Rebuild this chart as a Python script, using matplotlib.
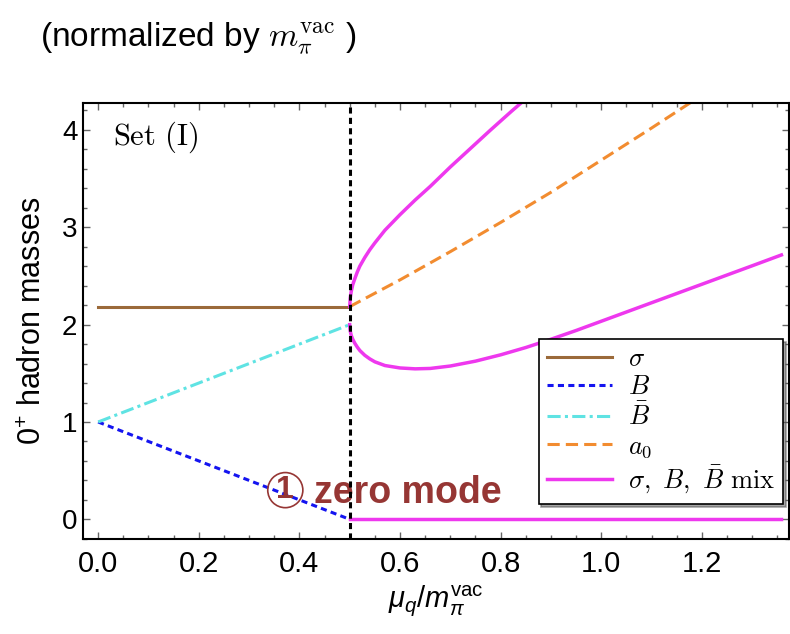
import numpy as np
import matplotlib
matplotlib.use("Agg")
import matplotlib.pyplot as plt
from matplotlib.ticker import MultipleLocator, FormatStrFormatter

# values (x: mu_q / m_pi^vac, y: mass / m_pi^vac)
sigma_x = [0.0, 0.5]
sigma_y = [2.18, 2.18]

b_x = [0.0, 0.5]
b_y = [1.0, 0.0]

bbar_x = [0.0, 0.5]
bbar_y = [1.0, 2.0]

a0_x = [0.5, 0.6, 0.7, 0.8, 0.9, 1.0, 1.1, 1.18, 1.2]
a0_y = [2.185, 2.46, 2.75, 3.05, 3.36, 3.69, 4.02, 4.29, 4.36]

mix_up_x = [0.5, 0.501, 0.503, 0.506, 0.51, 0.515, 0.52, 0.53, 0.54, 0.55, 0.57,
            0.60, 0.63, 0.66, 0.70, 0.74, 0.78, 0.82, 0.84, 0.86]
mix_up_y = [2.185, 2.27, 2.34, 2.41, 2.47, 2.54, 2.60, 2.69, 2.77, 2.84, 2.97,
            3.13, 3.28, 3.42, 3.62, 3.81, 4.00, 4.185, 4.275, 4.365]

mix_lo_x = [0.5, 0.5005, 0.501, 0.503, 0.506, 0.51, 0.515, 0.52, 0.53, 0.54, 0.55, 0.57,
            0.60, 0.63, 0.66, 0.70, 0.75, 0.80, 0.85, 0.90, 0.95, 1.0, 1.1, 1.2, 1.3, 1.358]
mix_lo_y = [2.0, 1.955, 1.935, 1.89, 1.85, 1.81, 1.77, 1.735, 1.685, 1.648, 1.618, 1.58,
            1.555, 1.546, 1.55, 1.575, 1.625, 1.69, 1.765, 1.85, 1.94, 2.035, 2.225, 2.415, 2.605, 2.716]

zero_x = [0.5, 1.358]
zero_y = [0.0, 0.0]

mu_c = 0.5

plt.rcParams['font.family'] = ['Liberation Sans', 'DejaVu Sans']
plt.rcParams['mathtext.fontset'] = 'custom'
plt.rcParams['mathtext.rm'] = 'Liberation Sans'
plt.rcParams['mathtext.it'] = 'Liberation Sans:italic'
plt.rcParams['mathtext.bf'] = 'Liberation Sans:bold'

fig = plt.figure(figsize=(7.9, 6.34), dpi=100)
ax = fig.add_axes([0.1051, 0.1494, 0.8936, 0.6886])

c_sigma = '#9B6A3A'
c_b = '#1414F0'
c_bbar = '#5FE3E3'
c_a0 = '#F28C30'
c_mix = '#EE38EE'
c_note = '#963634'

ax.plot(sigma_x, sigma_y, color=c_sigma, lw=2.2, label=r'$\sigma$')
ax.plot(b_x, b_y, color=c_b, lw=2.2, ls=(0, (2, 1.4)), label=r'$B$')
ax.plot(bbar_x, bbar_y, color=c_bbar, lw=2.2, ls=(0, (4.3, 1.4, 1, 1.4)), label=r'$\bar{B}$')
ax.plot(a0_x, a0_y, color=c_a0, lw=2.2, ls=(0, (4, 2)), label=r'$a_0$')
ax.plot(mix_up_x, mix_up_y, color=c_mix, lw=2.5, label=r'$\sigma,\ B,\ \bar{B}\ \mathrm{mix}$')
ax.plot(mix_lo_x, mix_lo_y, color=c_mix, lw=2.5)
ax.plot(zero_x, zero_y, color=c_mix, lw=2.5)
ax.axvline(mu_c, color='black', lw=2.2, ls=(0, (2, 1.4)), zorder=5)

ax.set_xlim(-0.03, 1.373)
ax.set_ylim(-0.205, 4.28)

ax.xaxis.set_major_locator(MultipleLocator(0.2))
ax.xaxis.set_minor_locator(MultipleLocator(0.05))
ax.xaxis.set_major_formatter(FormatStrFormatter('%.1f'))
ax.yaxis.set_major_locator(MultipleLocator(1))
ax.yaxis.set_minor_locator(MultipleLocator(0.2))
ax.tick_params(which='both', direction='in', top=True, right=True, color='#666666', width=1)
ax.tick_params(which='major', length=5)
ax.tick_params(which='minor', length=3)
ax.tick_params(axis='x', labelsize=21, pad=8)
ax.tick_params(axis='y', labelsize=20, pad=4)
for s in ax.spines.values():
    s.set_linewidth(1.5)

ax.set_xlabel(r'$\mu_q/m_\pi^{\mathrm{vac}}$', fontsize=21)
ax.set_ylabel(r'$0^{+}$ hadron masses', fontsize=22)
ax.yaxis.set_label_coords(-0.05, 0.5)

ax.text(0.03, 3.93, r'$\mathrm{Set\ (I)}$', fontsize=22, math_fontfamily='cm', va='center')

ax.text(0.372, 0.30, '1', ha='center', va='center', fontsize=23, fontweight='bold', color=c_note,
        bbox=dict(boxstyle='circle,pad=0.08', fc='none', ec=c_note, lw=1.2))
ax.text(0.4286, 0.168, 'zero mode', fontsize=27, fontweight='bold', color=c_note, va='baseline')

leg = ax.legend(loc='lower right', bbox_to_anchor=(0.9915, 0.081), fontsize=19,
                fancybox=False, shadow=True, edgecolor='black', framealpha=1,
                handlelength=2.45, labelspacing=0.15, borderpad=0.32,
                handletextpad=0.6, borderaxespad=0)
leg.get_frame().set_linewidth(1.2)
for t in leg.get_texts():
    t.set_math_fontfamily('cm')

fig.text(0.051, 0.926, r'(normalized by $m_\pi^{\mathrm{vac}}$ )', fontsize=24,
         math_fontfamily='cm', va='baseline')

fig.savefig('out.png', dpi=100)
